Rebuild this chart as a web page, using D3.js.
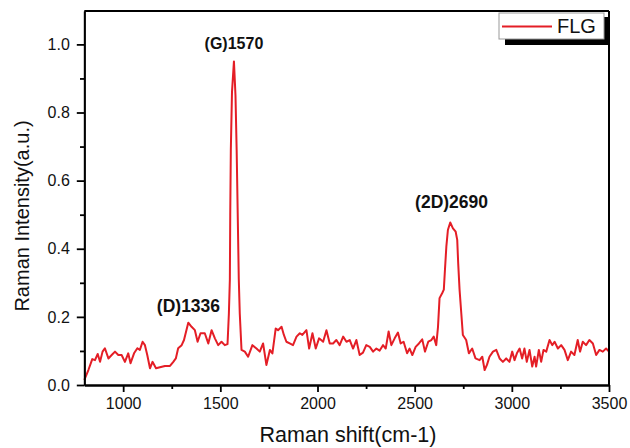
<!DOCTYPE html>
<html><head><meta charset="utf-8">
<script src="https://cdn.jsdelivr.net/npm/d3@7"></script>
<style>body{margin:0;background:#fff}svg{display:block}text{font-family:"Liberation Sans",Arial,sans-serif}</style>
</head><body>
<svg id="c" width="630" height="448"></svg>
<script>
const ramanShift = [800,804,821,841,855,869,881,894,906,924,941,958,975,992,1009,1026,1038,1056,1073,1086,1100,1112,1124,1138,1151,1169,1189,1215,1241,1258,1271,1283,1301,1313,1335,1352,1369,1383,1398,1420,1438,1455,1472,1489,1506,1523,1537,1544,1549,1551,1554,1560,1570,1578,1584,1595,1600,1609,1626,1643,1665,1686,1703,1720,1737,1755,1768,1785,1797,1815,1827,1840,1857,1874,1892,1909,1922,1943,1957,1974,1991,2008,2029,2046,2063,2080,2097,2114,2132,2149,2166,2183,2200,2217,2234,2251,2269,2286,2303,2320,2337,2351,2366,2380,2397,2414,2428,2443,2461,2474,2488,2505,2522,2539,2553,2570,2586,2598,2611,2620,2628,2642,2650,2656,2663,2671,2683,2697,2711,2719,2724,2731,2740,2748,2765,2779,2796,2813,2834,2848,2860,2872,2885,2903,2920,2937,2954,2971,2988,3002,3014,3026,3040,3053,3065,3077,3091,3105,3117,3125,3139,3151,3163,3177,3194,3208,3220,3237,3254,3271,3288,3305,3322,3339,3351,3365,3382,3399,3417,3434,3451,3468,3485,3500];
const intensity = [0.015,0.02,0.044,0.076,0.073,0.091,0.068,0.098,0.108,0.078,0.088,0.098,0.088,0.088,0.068,0.093,0.064,0.093,0.108,0.103,0.127,0.117,0.088,0.049,0.068,0.049,0.052,0.056,0.056,0.068,0.078,0.108,0.117,0.132,0.183,0.171,0.161,0.127,0.152,0.152,0.122,0.161,0.137,0.117,0.127,0.117,0.12,0.21,0.31,0.5,0.69,0.86,0.95,0.85,0.69,0.31,0.21,0.103,0.098,0.083,0.117,0.107,0.098,0.122,0.059,0.103,0.093,0.166,0.161,0.171,0.147,0.127,0.122,0.117,0.142,0.152,0.147,0.161,0.107,0.152,0.107,0.137,0.127,0.161,0.122,0.122,0.132,0.117,0.142,0.127,0.132,0.107,0.132,0.088,0.095,0.117,0.112,0.098,0.107,0.101,0.117,0.107,0.157,0.117,0.137,0.154,0.122,0.127,0.093,0.107,0.088,0.112,0.122,0.134,0.098,0.127,0.132,0.142,0.117,0.17,0.255,0.27,0.28,0.34,0.406,0.455,0.477,0.46,0.45,0.426,0.357,0.28,0.21,0.147,0.132,0.093,0.107,0.078,0.073,0.083,0.044,0.059,0.083,0.098,0.103,0.078,0.068,0.078,0.068,0.098,0.073,0.093,0.107,0.078,0.107,0.068,0.103,0.054,0.083,0.054,0.103,0.068,0.103,0.098,0.132,0.117,0.127,0.107,0.117,0.103,0.073,0.098,0.088,0.132,0.098,0.127,0.117,0.132,0.122,0.088,0.103,0.098,0.107,0.098];
const xTicks = [1000,1500,2000,2500,3000,3500];
const xMinorTicks = [1250,1750,2250,2750,3250];
const yTicks = [0,0.2,0.4,0.6,0.8,1.0];
const yMinorTicks = [0.1,0.3,0.5,0.7,0.9];
const peakLabels = ["(D)1336","(G)1570","(2D)2690"];
const peakX = [1336,1570,2690];
const peakY = [0.215,0.985,0.52];
const seriesName = "FLG";

const svg = d3.select("#c");
const x = d3.scaleLinear().domain([800,3500]).range([84.3,609]);
const y = d3.scaleLinear().domain([0,1.098]).range([385,11]);
const red = "#e41e26";

// data line
const line = d3.line().x((d,i)=>x(ramanShift[i])).y(d=>y(d));
svg.append("path").datum(intensity).attr("d",line).attr("fill","none")
  .attr("stroke",red).attr("stroke-width",2).attr("stroke-linejoin","round");

// frame top/right
svg.append("line").attr("x1",x.range()[0]).attr("x2",x.range()[1]).attr("y1",y.range()[1]).attr("y2",y.range()[1]).attr("stroke","#000").attr("stroke-width",2);
svg.append("line").attr("x1",x.range()[1]).attr("x2",x.range()[1]).attr("y1",y.range()[1]).attr("y2",y.range()[0]).attr("stroke","#000").attr("stroke-width",2);

// axes
function styleAxis(g){g.selectAll("path,line").attr("stroke","#000").attr("stroke-width",1.8);g.selectAll("text").attr("fill","#111").style("font-family",'"Liberation Sans",Arial,sans-serif');}
const gx = svg.append("g").attr("transform",`translate(0,${y.range()[0]})`)
  .call(d3.axisBottom(x).tickValues(xTicks).tickFormat(d3.format("d")).tickSize(7).tickPadding(6).tickSizeOuter(0)).call(styleAxis);
gx.selectAll("text").style("font-size","16px");
svg.append("g").attr("transform",`translate(0,${y.range()[0]})`)
  .call(d3.axisBottom(x).tickValues(xMinorTicks).tickSize(4).tickFormat("").tickSizeOuter(0)).call(styleAxis);
const gy = svg.append("g").attr("transform",`translate(${x.range()[0]},0)`)
  .call(d3.axisLeft(y).tickValues(yTicks).tickFormat(d3.format(".1f")).tickSize(7.5).tickPadding(7).tickSizeOuter(0)).call(styleAxis);
gy.selectAll("text").style("font-size","16px");
svg.append("g").attr("transform",`translate(${x.range()[0]},0)`)
  .call(d3.axisLeft(y).tickValues(yMinorTicks).tickSize(4.3).tickFormat("").tickSizeOuter(0)).call(styleAxis);

// titles
svg.append("text").attr("x",348).attr("y",441.5).attr("text-anchor","middle")
  .style("font-size","21.5px").attr("fill","#111").text("Raman shift(cm-1)");
svg.append("text").attr("transform","translate(28.5,216) rotate(-90)").attr("text-anchor","middle")
  .style("font-size","20px").attr("fill","#111").text("Raman Intensity(a.u.)");

// peak labels
const labelSizes = [17.5,16,17.5];
peakLabels.forEach((t,i)=>{
  svg.append("text").attr("x",x(peakX[i])).attr("y",y(peakY[i])).attr("text-anchor","middle")
    .style("font-size",labelSizes[i]+"px").style("font-weight","bold").attr("fill","#111").text(t);
});

// legend
const lg = svg.append("g");
lg.append("rect").attr("x",505).attr("y",17).attr("width",104).attr("height",28).attr("fill","#000");
lg.append("rect").attr("x",499).attr("y",13).attr("width",105).attr("height",26).attr("fill","#fff").attr("stroke","#999").attr("stroke-width",1);
lg.append("line").attr("x1",502).attr("x2",552).attr("y1",26.5).attr("y2",26.5).attr("stroke",red).attr("stroke-width",2);
lg.append("text").attr("x",557).attr("y",33).style("font-size","20px").attr("fill","#111").text(seriesName);
</script>
</body></html>
